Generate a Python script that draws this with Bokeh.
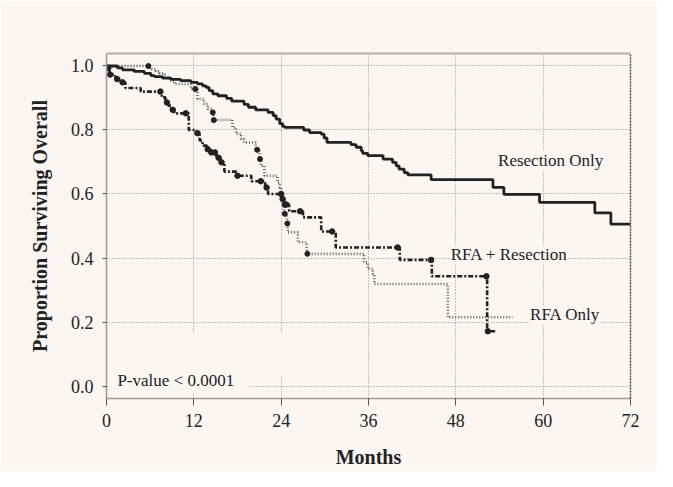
import numpy as np
from bokeh.plotting import figure
from bokeh.models import ColumnDataSource, FixedTicker, Range1d, LinearAxis, BoxAnnotation
from bokeh.core.properties import value
from bokeh.embed import file_html
from bokeh.resources import INLINE

# ---------------- data ----------------
# Resection Only (Kaplan-Meier steps: time in months, survival after step)
res_t = [0, 1.5, 2.2, 3.8, 5.2, 6.1, 6.6, 7.7, 8.9, 10.2, 11.6, 12.5, 13.2, 13.7, 14.1, 14.6, 15.3, 16.5, 17.2, 18.9,
         19.5, 20.5, 22.2, 22.9, 23.3, 23.8, 24.2, 24.5, 27.1, 27.9, 29.5, 29.9, 30.3, 33.6, 34.3, 35.0, 35.2, 35.9, 38.0, 39.3,
         39.8, 40.2, 40.9, 41.4, 44.6, 53.1, 54.6, 59.5, 67.1, 69.3]
res_s = [1.0, 0.994, 0.988, 0.983, 0.977, 0.970, 0.967, 0.962, 0.958, 0.954, 0.949, 0.944, 0.938, 0.933, 0.923, 0.913, 0.907, 0.899, 0.890, 0.880,
         0.871, 0.863, 0.855, 0.845, 0.834, 0.820, 0.811, 0.808, 0.800, 0.792, 0.787, 0.775, 0.761, 0.754, 0.746, 0.735, 0.727, 0.720, 0.709, 0.699,
         0.688, 0.678, 0.667, 0.660, 0.645, 0.621, 0.599, 0.574, 0.541, 0.506]
res_end = 72.0

# RFA + Resection
rr_t = [0, 0.1, 0.4, 1.2, 2.0, 2.6, 4.7, 7.6, 8.1, 8.5, 8.9, 9.3, 11.3, 12.3, 12.8, 13.2, 13.8, 14.3, 15.0, 15.3,
        15.7, 16.2, 18.0, 19.9, 21.8, 22.2, 24.1, 24.4, 25.1, 27.0, 29.5, 31.5, 40.3, 44.7, 52.3]
rr_s = [1.0, 0.994, 0.973, 0.959, 0.949, 0.931, 0.920, 0.902, 0.886, 0.876, 0.863, 0.852, 0.800, 0.790, 0.767, 0.751, 0.740, 0.730, 0.720, 0.713,
        0.699, 0.670, 0.657, 0.640, 0.620, 0.600, 0.584, 0.567, 0.546, 0.527, 0.483, 0.433, 0.394, 0.343, 0.171]
rr_end = 53.6
rr_cens = [0.25, 0.5, 1.45, 2.2, 7.4, 8.3, 9.1, 10.9, 12.5, 13.9, 14.4, 14.9, 15.4, 15.8, 18.0, 21.2, 22.0,
           24.0, 24.2, 24.5, 24.7, 26.6, 31.0, 40.0, 44.6, 52.2, 52.4]

# RFA Only
ro_t = [0, 5.9, 6.8, 7.3, 8.0, 8.6, 9.3, 11.6, 12.5, 13.4, 13.9, 14.5, 14.7, 17.3, 17.8, 18.5, 18.9, 20.5, 21.0, 21.2,
        21.7, 23.5, 23.8, 24.0, 24.2, 24.4, 24.8, 24.9, 26.3, 27.5, 35.4, 35.9, 36.6, 36.8, 46.9]
ro_s = [1.0, 0.990, 0.983, 0.977, 0.966, 0.955, 0.944, 0.928, 0.897, 0.881, 0.866, 0.855, 0.831, 0.808, 0.788, 0.772, 0.761, 0.738, 0.709, 0.688,
        0.657, 0.636, 0.620, 0.600, 0.579, 0.538, 0.508, 0.480, 0.449, 0.413, 0.386, 0.366, 0.350, 0.319, 0.215]
ro_end = 55.8
ro_cens = [5.75, 12.2, 14.6, 14.75, 20.7, 21.1, 24.5, 24.85, 27.6]

x_ticks = [0, 12, 24, 36, 48, 60, 72]
x_tick_labels = ["0", "12", "24", "36", "48", "60", "72"]
y_ticks = [0.0, 0.2, 0.4, 0.6, 0.8, 1.0]
y_tick_labels = ["0.0", "0.2", "0.4", "0.6", "0.8", "1.0"]

label_texts = ["Resection Only", "RFA + Resection", "RFA Only", "P-value < 0.0001"]
label_x = [53.8, 47.3, 58.2, 1.5]
label_y = [0.704, 0.410, 0.223, 0.017]

# ---------------- styling ----------------
BG = "#fcf6f3"
INK = "#222222"
FONT = "Liberation Serif"


def step_xy(t, s, end):
    return list(t) + [end], list(s) + [s[-1]]


def surv_at(t, s, c):
    t = np.asarray(t)
    s = np.asarray(s)
    idx = np.searchsorted(t, np.asarray(c, dtype=float), side="right") - 1
    return s[idx]


p = figure(frame_width=524, frame_height=345,
           min_border_left=106, min_border_right=27, min_border_top=53, min_border_bottom=73,
           x_range=Range1d(0, 72), y_range=Range1d(-0.039, 1.039),
           output_backend="svg", toolbar_location=None,
           background_fill_color=BG, border_fill_color=BG)
p.outline_line_color = None

# axes
p.xaxis.ticker = FixedTicker(ticks=x_ticks)
p.yaxis.ticker = FixedTicker(ticks=y_ticks)
p.xaxis.major_label_overrides = {t: l for t, l in zip(x_ticks, x_tick_labels)}
p.yaxis.major_label_overrides = {t: l for t, l in zip(y_ticks, y_tick_labels)}
for ax in (p.xaxis[0], p.yaxis[0]):
    ax.minor_tick_line_color = None
    ax.major_tick_in = 0
    ax.major_tick_line_color = "#555555"
    ax.major_tick_line_width = 1
    ax.axis_line_color = "#9c9c9c"
    ax.axis_line_width = 1.5
    ax.major_label_text_font = FONT
    ax.major_label_text_font_size = "18px"
    ax.major_label_text_color = INK
    ax.axis_label_text_font = FONT
    ax.axis_label_text_font_size = "20px"
    ax.axis_label_text_font_style = "bold"
    ax.axis_label_text_color = INK
p.xaxis.major_tick_out = 7
p.xaxis.major_label_standoff = 8
p.xaxis.axis_label = "Months"
p.xaxis.axis_label_standoff = 16
p.yaxis.major_tick_out = 4
p.yaxis.major_label_standoff = 9
p.yaxis.axis_label = "Proportion Surviving Overall"
p.yaxis.axis_label_standoff = 17

# frame edges: solid light-grey top, dark dotted right
top_ax = LinearAxis(ticker=FixedTicker(ticks=[]), major_tick_line_color=None, minor_tick_line_color=None,
                    major_label_text_font_size="0px", axis_line_color="#b0b0b0", axis_line_width=2)
right_ax = LinearAxis(ticker=FixedTicker(ticks=[]), major_tick_line_color=None, minor_tick_line_color=None,
                      major_label_text_font_size="0px", axis_line_color="#4a4a4a", axis_line_width=1.5,
                      axis_line_dash="2 1")
p.add_layout(top_ax, "above")
p.add_layout(right_ax, "right")

# grid
for g in (p.xgrid[0], p.ygrid[0]):
    g.grid_line_color = "#8c8c8c"
    g.grid_line_dash = "1 2"
    g.grid_line_width = 1

# blank patch behind the p-value note (grid is hidden there in the original)
p.add_layout(BoxAnnotation(left=0.4, right=25.5, bottom=0.035, top=0.165, fill_color=BG, fill_alpha=1,
                           line_color=None, level="underlay"))
p.add_layout(BoxAnnotation(left=0.4, right=19.5, bottom=-0.02, top=0.04, fill_color=BG, fill_alpha=1,
                           line_color=None, level="underlay"))

# curves
x, y = step_xy(ro_t, ro_s, ro_end)
p.step(x, y, mode="after", line_color="#5e5e5e", line_width=2.6, line_dash="1 2")
p.scatter(ro_cens, surv_at(ro_t, ro_s, ro_cens), size=5, color=INK)

x, y = step_xy(rr_t, rr_s, rr_end)
p.step(x, y, mode="after", line_color=INK, line_width=2.6, line_dash="5 2 2 2")
p.scatter(rr_cens, surv_at(rr_t, rr_s, rr_cens), size=5.5, color=INK)

x, y = step_xy(res_t, res_s, res_end)
p.step(x, y, mode="after", line_color=INK, line_width=2.8)

# labels
lab = ColumnDataSource(dict(x=label_x, y=label_y, text=label_texts))
p.text(x="x", y="y", text="text", source=lab, text_font=value(FONT), text_font_size="17px",
       text_color=INK, text_align="left", text_baseline="middle",
       background_fill_color=BG)

open("out.html", "w").write(file_html(p, INLINE))
